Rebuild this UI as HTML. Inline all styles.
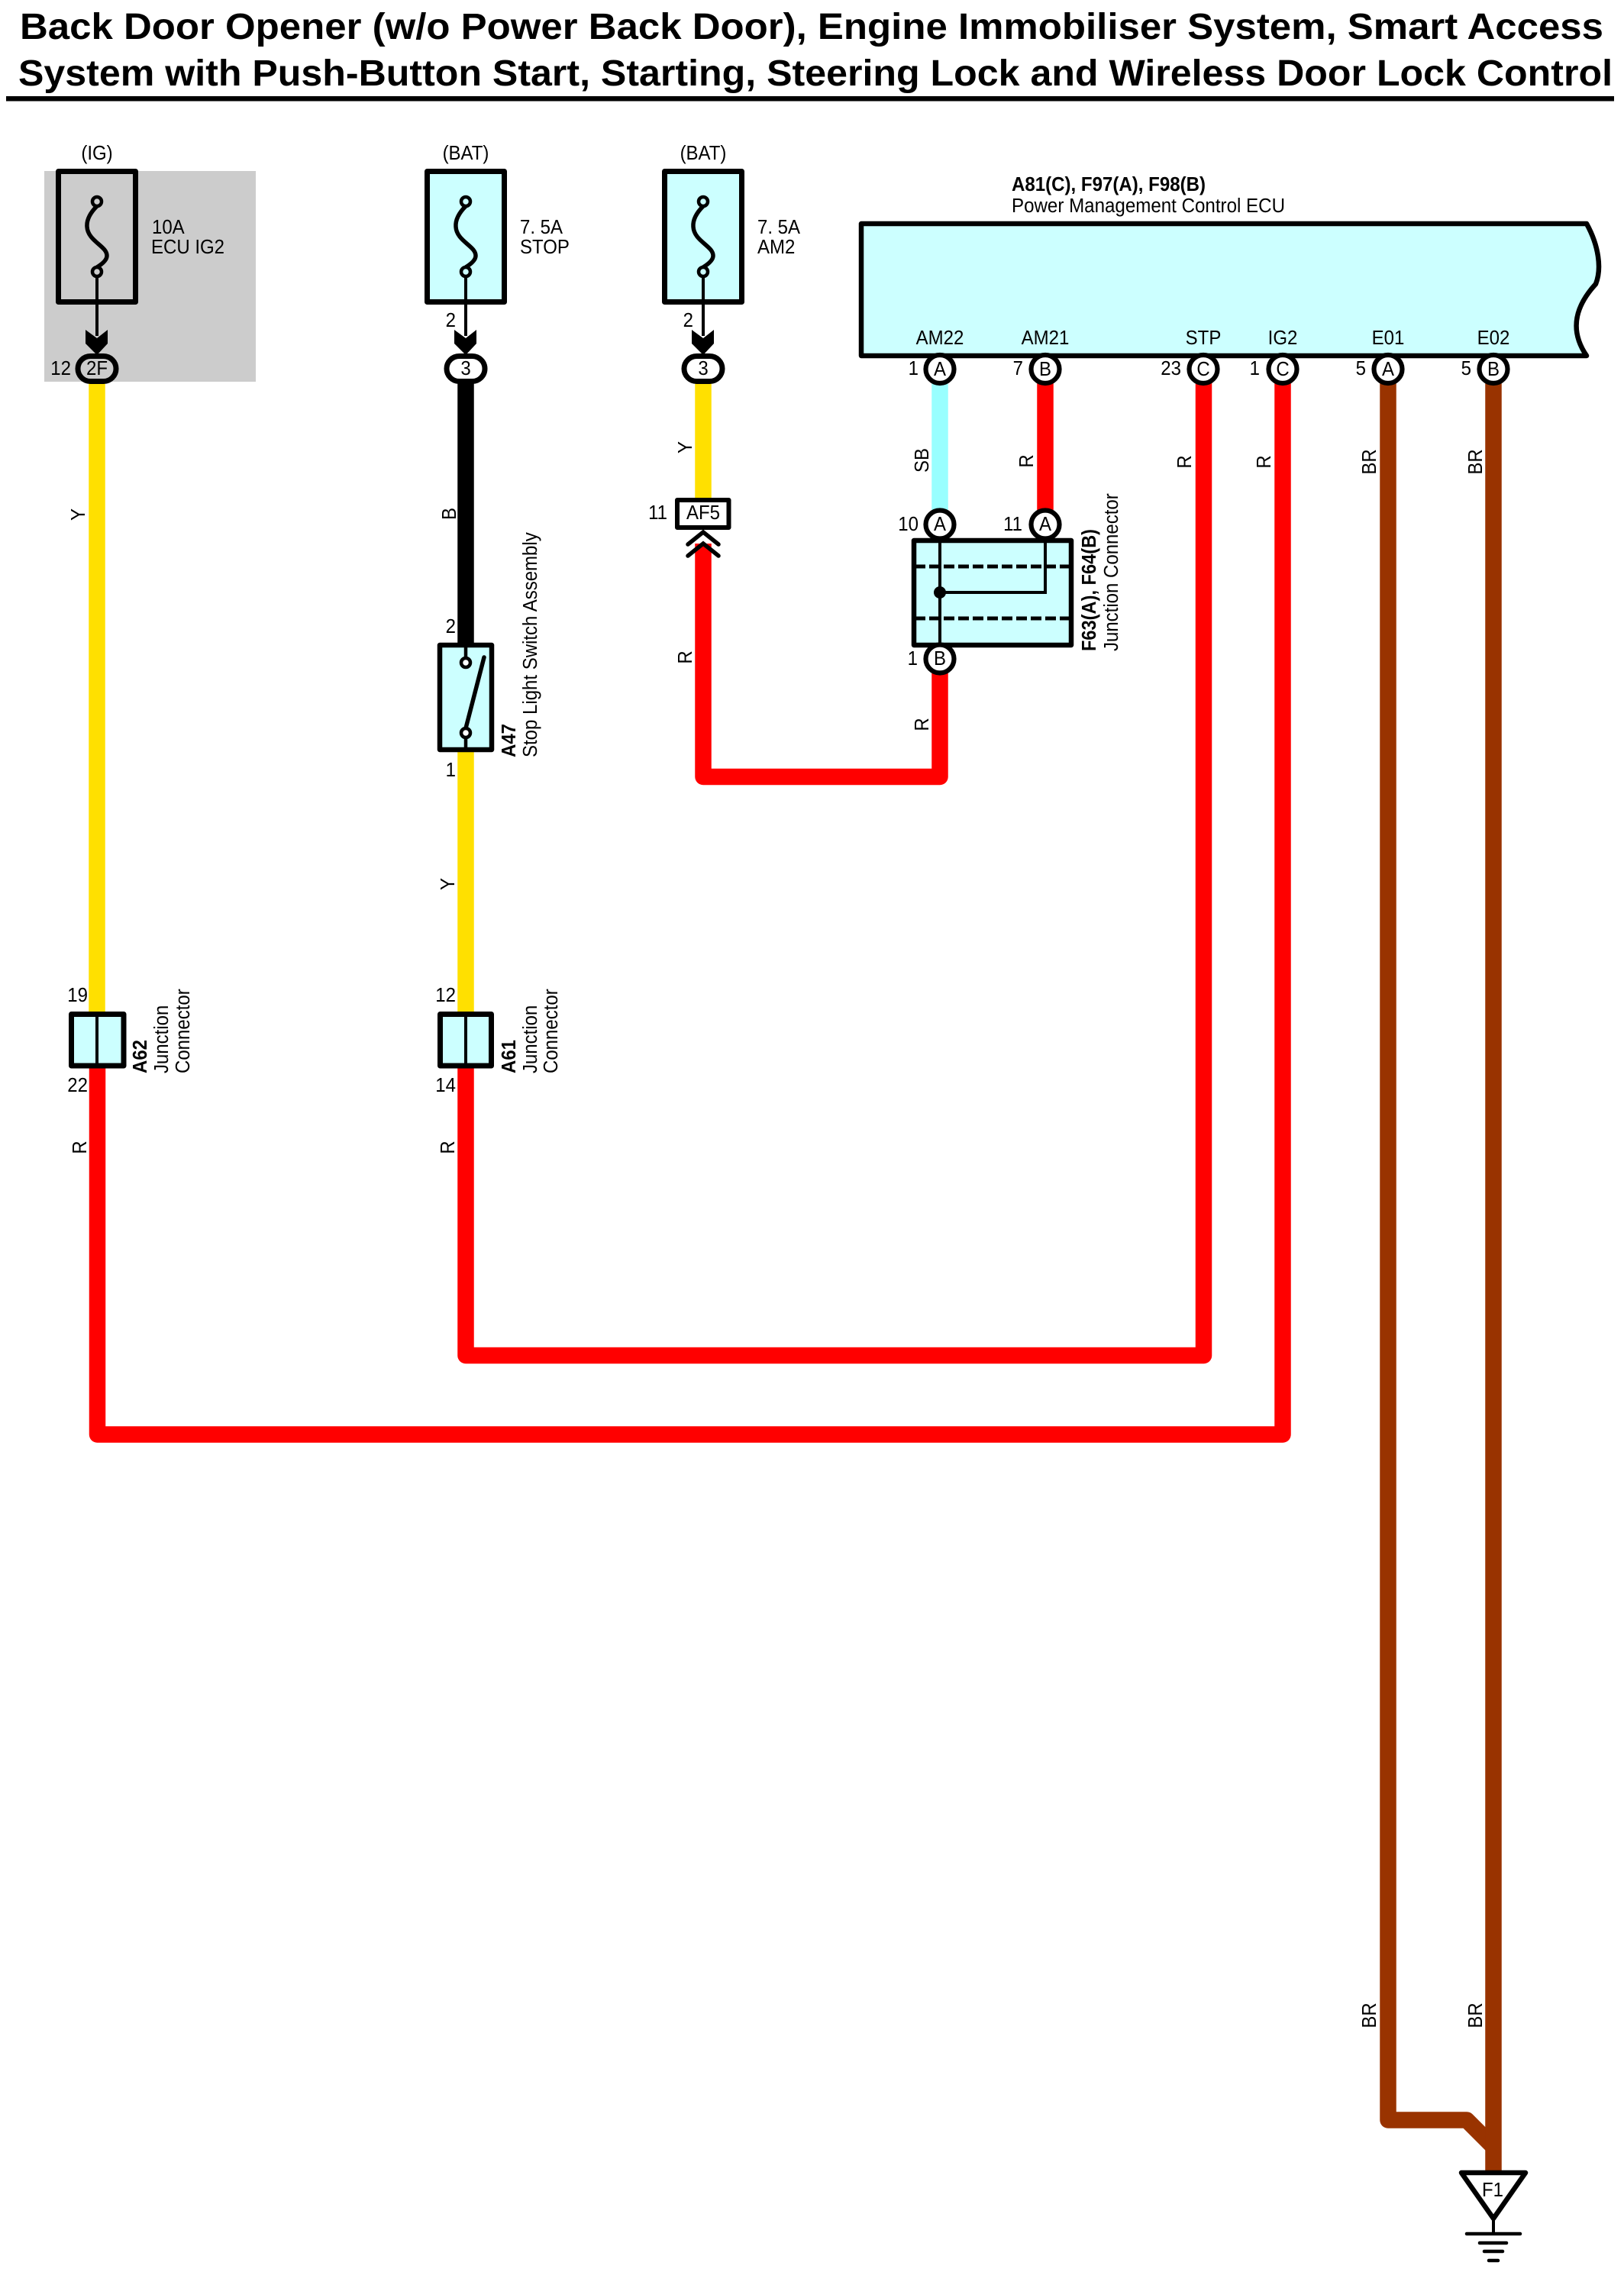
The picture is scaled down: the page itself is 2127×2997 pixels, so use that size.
<!DOCTYPE html>
<html>
<head>
<meta charset="utf-8">
<style>
html,body{margin:0;padding:0;background:#fff}
svg{display:block}
text{font-family:"Liberation Sans",Arial,sans-serif;font-size:24px;fill:#000}
.b{font-weight:bold}
.t{font-weight:bold;font-size:48px}
.m{text-anchor:middle}
.e{text-anchor:end}
.w{fill:none;stroke-width:21.5;stroke-linejoin:round}
.th{stroke:#000;stroke-width:4;fill:none}
</style>
</head>
<body>
<svg xmlns="http://www.w3.org/2000/svg" width="2127" height="2997" viewBox="0 0 2127 2997">
<rect width="2127" height="2997" fill="#fff"/>

<!-- Title -->
<text class="t" x="26" y="51" textLength="2074" lengthAdjust="spacingAndGlyphs">Back Door Opener (w/o Power Back Door), Engine Immobiliser System, Smart Access</text>
<text class="t" x="24" y="112" textLength="2088" lengthAdjust="spacingAndGlyphs">System with Push-Button Start, Starting, Steering Lock and Wireless Door Lock Control</text>
<rect x="8" y="126" width="2106" height="6.5" fill="#000"/>

<!-- grey -->
<rect x="58" y="224" width="277" height="276" fill="#ccc"/>

<!-- Wires -->
<path class="w" stroke="#ffe000" d="M127 500V1325"/>
<path class="w" stroke="#000" d="M610 500V842"/>
<path class="w" stroke="#ffe000" d="M610 985V1325"/>
<path class="w" stroke="#ffe000" d="M921 500V652"/>
<path class="w" stroke="#f00" d="M127.500 1399V1879H1680V500"/>
<path class="w" stroke="#f00" d="M610 1399V1775.500H1576.500V500"/>
<path class="w" stroke="#f00" d="M921 712V1017.5H1231V880"/>
<path class="w" stroke="#f00" d="M1369 500V670"/>
<path class="w" stroke="#99ffff" d="M1231 500V670"/>
<path class="w" stroke="#993300" d="M1818 500V2777H1921L1956 2812"/>
<path class="w" stroke="#993300" d="M1956 500V2846"/>

<!-- Fuses -->
<g>
<rect x="76.500" y="224.500" width="101" height="171" fill="none" stroke="#000" stroke-width="7" stroke-linejoin="round"/>
<path d="M127 270Q113 284 114 297C115 316 140 322 140 335Q140 342 127 350" fill="none" stroke="#000" stroke-width="5.500"/>
<path d="M127 362V440" stroke="#000" stroke-width="4"/>
<circle cx="127" cy="264" r="6" fill="#ccc" stroke="#000" stroke-width="4.500"/>
<circle cx="127" cy="356" r="6" fill="#ccc" stroke="#000" stroke-width="4.500"/>
<path d="M112 432L127 443L141 432V450L127 465L112 450Z" fill="#000"/>
<rect x="102" y="466.500" width="50" height="33" rx="16.5" fill="#ccc" stroke="#000" stroke-width="7"/>
</g>
<g>
<rect x="559.500" y="224.500" width="101" height="171" fill="#ccffff" stroke="#000" stroke-width="7" stroke-linejoin="round"/>
<path d="M610 270Q596 284 597 297C598 316 623 322 623 335Q623 342 610 350" fill="none" stroke="#000" stroke-width="5.500"/>
<path d="M610 362V440" stroke="#000" stroke-width="4"/>
<circle cx="610" cy="264" r="6" fill="#ccffff" stroke="#000" stroke-width="4.500"/>
<circle cx="610" cy="356" r="6" fill="#ccffff" stroke="#000" stroke-width="4.500"/>
<path d="M595 432L610 443L624 432V450L610 465L595 450Z" fill="#000"/>
<rect x="585" y="466.500" width="50" height="33" rx="16.5" fill="#fff" stroke="#000" stroke-width="7"/>
</g>
<g>
<rect x="870.500" y="224.500" width="101" height="171" fill="#ccffff" stroke="#000" stroke-width="7" stroke-linejoin="round"/>
<path d="M921 270Q907 284 908 297C909 316 934 322 934 335Q934 342 921 350" fill="none" stroke="#000" stroke-width="5.500"/>
<path d="M921 362V440" stroke="#000" stroke-width="4"/>
<circle cx="921" cy="264" r="6" fill="#ccffff" stroke="#000" stroke-width="4.500"/>
<circle cx="921" cy="356" r="6" fill="#ccffff" stroke="#000" stroke-width="4.500"/>
<path d="M906 432L921 443L935 432V450L921 465L906 450Z" fill="#000"/>
<rect x="896" y="466.500" width="50" height="33" rx="16.5" fill="#fff" stroke="#000" stroke-width="7"/>
</g>

<text class="m" transform="translate(127 209) scale(1 1.08)">(IG)</text>
<text class="m" transform="translate(610 209) scale(1 1.08)">(BAT)</text>
<text class="m" transform="translate(921 209) scale(1 1.08)">(BAT)</text>
<text transform="translate(199 306) scale(1 1.08)">10A</text>
<text transform="translate(198 332) scale(1 1.08)">ECU IG2</text>
<text transform="translate(681 306) scale(1 1.08)">7. 5A</text>
<text transform="translate(681 332) scale(1 1.08)">STOP</text>
<text transform="translate(992 306) scale(1 1.08)">7. 5A</text>
<text transform="translate(992 332) scale(1 1.08)">AM2</text>
<text class="e" transform="translate(597 428) scale(1 1.08)">2</text>
<text class="e" transform="translate(908 428) scale(1 1.08)">2</text>
<text class="e" transform="translate(93 491) scale(1 1.08)">12</text>
<text class="m" transform="translate(127 491) scale(1 1.08)">2F</text>
<text class="m" transform="translate(610 491) scale(1 1.08)">3</text>
<text class="m" transform="translate(921 491) scale(1 1.08)">3</text>

<!-- ECU -->
<path d="M1128 293H2078C2094 322 2098 352 2090 372C2068 396 2052 428 2078 466H1128Z" fill="#ccffff" stroke="#000" stroke-width="6.500" stroke-linejoin="round"/>
<text class="b" transform="translate(1325 250) scale(1 1.08)" textLength="254" lengthAdjust="spacingAndGlyphs">A81(C), F97(A), F98(B)</text>
<text transform="translate(1325 278) scale(1 1.08)" textLength="358" lengthAdjust="spacingAndGlyphs">Power Management Control ECU</text>
<text class="m" transform="translate(1231 451) scale(1 1.08)">AM22</text>
<text class="m" transform="translate(1369 451) scale(1 1.08)">AM21</text>
<text class="m" transform="translate(1576 451) scale(1 1.08)">STP</text>
<text class="m" transform="translate(1680 451) scale(1 1.08)">IG2</text>
<text class="m" transform="translate(1818 451) scale(1 1.08)">E01</text>
<text class="m" transform="translate(1956 451) scale(1 1.08)">E02</text>
<g fill="#fff" stroke="#000" stroke-width="6.200">
<circle cx="1231" cy="483.500" r="18.500"/>
<circle cx="1369" cy="483.500" r="18.500"/>
<circle cx="1576" cy="483.500" r="18.500"/>
<circle cx="1680" cy="483.500" r="18.500"/>
<circle cx="1818" cy="483.500" r="18.500"/>
<circle cx="1956" cy="483.500" r="18.500"/>
</g>
<text class="m" transform="translate(1231 492) scale(1 1.08)">A</text>
<text class="m" transform="translate(1369 492) scale(1 1.08)">B</text>
<text class="m" transform="translate(1576 492) scale(1 1.08)">C</text>
<text class="m" transform="translate(1680 492) scale(1 1.08)">C</text>
<text class="m" transform="translate(1818 492) scale(1 1.08)">A</text>
<text class="m" transform="translate(1956 492) scale(1 1.08)">B</text>
<text class="e" transform="translate(1203 491) scale(1 1.08)">1</text>
<text class="e" transform="translate(1340 491) scale(1 1.08)">7</text>
<text class="e" transform="translate(1547 491) scale(1 1.08)">23</text>
<text class="e" transform="translate(1650 491) scale(1 1.08)">1</text>
<text class="e" transform="translate(1789 491) scale(1 1.08)">5</text>
<text class="e" transform="translate(1927 491) scale(1 1.08)">5</text>

<!-- AF5 -->
<rect x="887" y="655" width="67.500" height="36" fill="#fff" stroke="#000" stroke-width="6" stroke-linejoin="round"/>
<text class="m" transform="translate(921 680) scale(1 1.08)">AF5</text>
<text class="e" transform="translate(874 680) scale(1 1.08)">11</text>
<path d="M901 713L921 697L941 713M901 728L921 712L941 728" fill="none" stroke="#000" stroke-width="5.500" stroke-linecap="round"/>

<!-- Junction F63/F64 -->
<rect x="1197" y="708" width="206" height="137" fill="#ccffff" stroke="#000" stroke-width="6.500" stroke-linejoin="round"/>
<path d="M1198 742H1403M1198 810H1403" stroke="#000" stroke-width="5" stroke-dasharray="14 5" fill="none"/>
<path d="M1231 705V847M1369 705V776H1231" class="th"/>
<circle cx="1231" cy="776" r="8" fill="#000"/>
<g fill="#fff" stroke="#000" stroke-width="6.200">
<circle cx="1231" cy="687" r="18.500"/>
<circle cx="1369" cy="687" r="18.500"/>
<circle cx="1231" cy="863" r="18.500"/>
</g>
<text class="m" transform="translate(1231 695) scale(1 1.08)">A</text>
<text class="m" transform="translate(1369 695) scale(1 1.08)">A</text>
<text class="m" transform="translate(1231 871) scale(1 1.08)">B</text>
<text class="e" transform="translate(1203 695) scale(1 1.08)">10</text>
<text class="e" transform="translate(1339 695) scale(1 1.08)">11</text>
<text class="e" transform="translate(1202 871) scale(1 1.08)">1</text>
<text class="b" transform="translate(1435 853) rotate(-90) scale(1 1.08)" textLength="160" lengthAdjust="spacingAndGlyphs">F63(A), F64(B)</text>
<text transform="translate(1464 853) rotate(-90) scale(1 1.08)">Junction Connector</text>

<!-- Switch A47 -->
<rect x="576" y="845" width="68" height="137" fill="#ccffff" stroke="#000" stroke-width="6.500" stroke-linejoin="round"/>
<path d="M610 845V862M610 967V982" stroke="#000" stroke-width="4.500"/>
<path d="M610 954L634 861" stroke="#000" stroke-width="5.500" stroke-linecap="round"/>
<circle cx="610" cy="868" r="6" fill="#fff" stroke="#000" stroke-width="4.500"/>
<circle cx="610" cy="960" r="6" fill="#fff" stroke="#000" stroke-width="4.500"/>
<text class="e" transform="translate(597 829) scale(1 1.08)">2</text>
<text class="e" transform="translate(597 1017) scale(1 1.08)">1</text>
<text class="b" transform="translate(675 992) rotate(-90) scale(1 1.08)">A47</text>
<text transform="translate(703 992) rotate(-90) scale(1 1.08)">Stop Light Switch Assembly</text>

<!-- Junction A62 / A61 -->
<rect x="93.500" y="1328.500" width="68.500" height="67.500" fill="#ccffff" stroke="#000" stroke-width="7" stroke-linejoin="round"/>
<path d="M127 1328V1396" stroke="#000" stroke-width="4"/>
<rect x="576.500" y="1328.500" width="67" height="67.500" fill="#ccffff" stroke="#000" stroke-width="7" stroke-linejoin="round"/>
<path d="M610 1328V1396" stroke="#000" stroke-width="4"/>
<text class="e" transform="translate(115 1312) scale(1 1.08)">19</text>
<text class="e" transform="translate(115 1430) scale(1 1.08)">22</text>
<text class="e" transform="translate(597 1312) scale(1 1.08)">12</text>
<text class="e" transform="translate(597 1430) scale(1 1.08)">14</text>
<text class="b" transform="translate(192 1406) rotate(-90) scale(1 1.08)">A62</text>
<text transform="translate(220 1406) rotate(-90) scale(1 1.08)">Junction</text>
<text transform="translate(248 1406) rotate(-90) scale(1 1.08)">Connector</text>
<text class="b" transform="translate(675 1406) rotate(-90) scale(1 1.08)">A61</text>
<text transform="translate(703 1406) rotate(-90) scale(1 1.08)">Junction</text>
<text transform="translate(730 1406) rotate(-90) scale(1 1.08)">Connector</text>

<!-- Wire colour labels -->
<text class="m" transform="translate(111 674) rotate(-90) scale(1 1.08)">Y</text>
<text class="m" transform="translate(597 673) rotate(-90) scale(1 1.08)">B</text>
<text class="m" transform="translate(595 1158) rotate(-90) scale(1 1.08)">Y</text>
<text class="m" transform="translate(113 1503) rotate(-90) scale(1 1.08)">R</text>
<text class="m" transform="translate(595 1503) rotate(-90) scale(1 1.08)">R</text>
<text class="m" transform="translate(906 586) rotate(-90) scale(1 1.08)">Y</text>
<text class="m" transform="translate(906 861) rotate(-90) scale(1 1.08)">R</text>
<text class="m" transform="translate(1216 603) rotate(-90) scale(1 1.08)">SB</text>
<text class="m" transform="translate(1353 604) rotate(-90) scale(1 1.08)">R</text>
<text class="m" transform="translate(1216 949) rotate(-90) scale(1 1.08)">R</text>
<text class="m" transform="translate(1560 605) rotate(-90) scale(1 1.08)">R</text>
<text class="m" transform="translate(1664 605) rotate(-90) scale(1 1.08)">R</text>
<text class="m" transform="translate(1802 605) rotate(-90) scale(1 1.08)">BR</text>
<text class="m" transform="translate(1941 605) rotate(-90) scale(1 1.08)">BR</text>
<text class="m" transform="translate(1802 2640) rotate(-90) scale(1 1.08)">BR</text>
<text class="m" transform="translate(1941 2640) rotate(-90) scale(1 1.08)">BR</text>

<!-- Ground -->
<path d="M1914 2846H1998L1956 2906Z" fill="#fff" stroke="#000" stroke-width="6.500" stroke-linejoin="round"/>
<text class="m" transform="translate(1955 2877) scale(1 1.08)">F1</text>
<path d="M1956 2906V2925" stroke="#000" stroke-width="4"/>
<g stroke="#000" stroke-width="4.500" stroke-linecap="round">
<path d="M1921 2926H1991"/>
<path d="M1938 2938H1973"/>
<path d="M1944 2949H1968"/>
<path d="M1950 2961H1962"/>
</g>
</svg>
</body>
</html>
